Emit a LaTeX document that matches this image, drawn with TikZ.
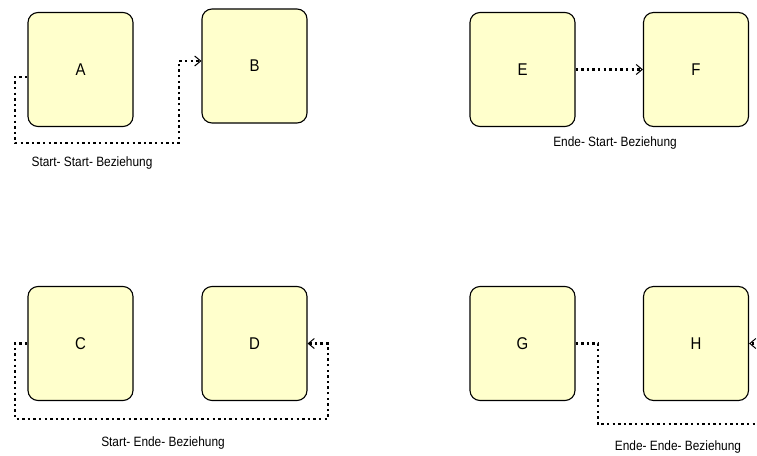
\documentclass[tikz,border=0pt]{standalone}
\usepackage{fontspec}
\setmainfont{Liberation Sans}[FakeStretch=0.88]
\usetikzlibrary{arrows.meta}
\definecolor{boxfill}{RGB}{255,255,204}
\tikzset{
  task/.style={draw=black, line width=1.1pt, fill=boxfill, rounded corners=10pt,
    minimum width=105pt, minimum height=114pt, inner sep=0pt,
    font=\fontsize{17}{20}\selectfont},
  link/.style={line width=2.3pt, dash pattern=on 2.4pt off 3.2pt,
    -{Straight Barb[length=6pt,width=10pt,line width=1pt]}},
  caption/.style={font=\fontsize{13.5}{16}\selectfont, inner sep=0pt}
}
\begin{document}
\begin{tikzpicture}[x=1pt,y=-1pt]
\useasboundingbox (0,0) rectangle (757,455);
\clip (0,0) rectangle (757,455);
% activities
\node[task] (A) at (80.5,69.5) {A};
\node[task] (B) at (254.5,66) {B};
\node[task] (E) at (522.5,69.5) {E};
\node[task] (F) at (696,69.5) {F};
\node[task] (C) at (80.5,343.5) {C};
\node[task] (D) at (254.5,343.5) {D};
\node[task] (G) at (522.5,343.5) {G};
\node[task] (H) at (696,343.5) {H};
% turning points of the routed links
\coordinate (ss1) at (15,77);
\coordinate (ss2) at (15,143);
\coordinate (ss3) at (179,143);
\coordinate (ss4) at (179,61);
\coordinate (se1) at (15,343.5);
\coordinate (se2) at (15,419);
\coordinate (se3) at (328,419);
\coordinate (se4) at (328,343.5);
\coordinate (ee1) at (598,343.5);
\coordinate (ee2) at (598,424);
\coordinate (ee3) at (772,424);
\coordinate (ee4) at (772,343.5);
% start-start
\draw[link] ([yshift=-7.5pt]A.west) -- (ss1) -- (ss2) -- (ss3) -- (ss4) -- (ss4 -| B.west);
% end-start
\draw[link] (E.east) -- (F.west);
% start-end
\draw[link] (C.west) -- (se1) -- (se2) -- (se3) -- (se4) -- (D.east);
% end-end
\draw[link] (G.east) -- (ee1) -- (ee2) -- (ee3) -- (ee4) -- (H.east);
% captions
\node[caption] (l1) at (92,163) {Start- Start- Beziehung};
\node[caption] (l2) at (615,143) {Ende- Start- Beziehung};
\node[caption] (l3) at (163,443) {Start- Ende- Beziehung};
\node[caption] (l4) at (678,447) {Ende- Ende- Beziehung};
\end{tikzpicture}
\end{document}
